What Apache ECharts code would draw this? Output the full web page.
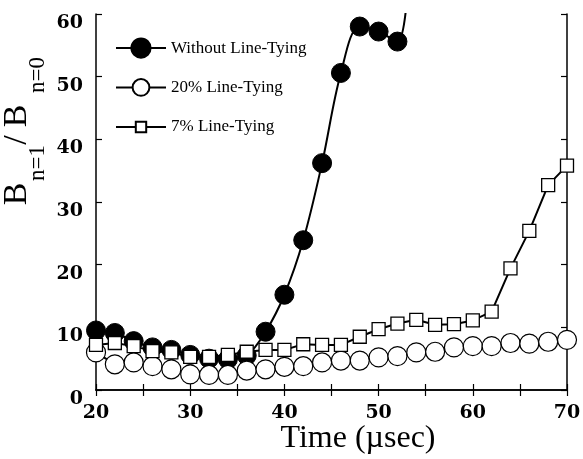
<!DOCTYPE html>
<html>
<head>
<meta charset="utf-8">
<script src="https://cdn.jsdelivr.net/npm/echarts@6/dist/echarts.min.js"></script>
<style>html,body{margin:0;padding:0;background:#fff;}</style>
</head>
<body>
<div id="main" style="width:583px;height:459px;"></div>
<script type="text/javascript">
// values
var timeFree = [20, 22, 24, 26, 28, 30, 32, 34, 36, 38, 40, 42, 44, 46, 48, 50, 52, 53];
var ratioFree = [9.5, 9.1, 7.8, 6.8, 6.4, 5.6, 5.0, 4.9, 5.5, 9.3, 15.2, 23.9, 36.2, 50.6, 58.0, 57.2, 55.6, 62.5];
var time20 = [20, 22, 24, 26, 28, 30, 32, 34, 36, 38, 40, 42, 44, 46, 48, 50, 52, 54, 56, 58, 60, 62, 64, 66, 68, 70];
var ratio20 = [6.0, 4.1, 4.4, 3.8, 3.3, 2.5, 2.4, 2.4, 3.1, 3.3, 3.7, 3.8, 4.4, 4.7, 4.7, 5.2, 5.4, 6.0, 6.1, 6.8, 7.0, 7.0, 7.5, 7.4, 7.7, 8.0];
var time7 = [20, 22, 24, 26, 28, 30, 32, 34, 36, 38, 40, 42, 44, 46, 48, 50, 52, 54, 56, 58, 60, 62, 64, 66, 68, 70];
var ratio7 = [7.2, 7.5, 7.0, 6.2, 6.0, 5.3, 5.3, 5.6, 6.1, 6.4, 6.4, 7.3, 7.2, 7.2, 8.5, 9.7, 10.6, 11.2, 10.4, 10.5, 11.1, 12.5, 19.4, 25.4, 32.7, 35.8];
var seriesNames = ['Without Line-Tying', '20% Line-Tying', '7% Line-Tying'];

var chart = echarts.init(document.getElementById('main'), null, { renderer: 'canvas' });

function pairs(xs, ys) {
	var out = [];
	for (var i = 0; i < xs.length; i++) out.push([xs[i], ys[i]]);
	return out;
}

var freeData = pairs(timeFree, ratioFree);
// last point only carries the line out through the top edge
freeData[freeData.length - 1] = { value: freeData[freeData.length - 1], symbol: 'none' };

var serif = 'Liberation Serif';
var tickFont = { fontFamily: 'DejaVu Serif', fontWeight: 'bold', fontSize: 19, color: '#000' };
var axisLine = { show: true, lineStyle: { color: '#000', width: 1.5 } };
var tick = { show: true, inside: true, length: 6, lineStyle: { color: '#000', width: 1.2 } };

function legendFor(name, h, top) {
	return {
		data: [name], left: 115, top: top, padding: 0,
		itemWidth: 50, itemHeight: h, itemGap: 0, itemTextGap: 3,
		textStyle: { fontFamily: serif, fontSize: 17, color: '#000' }
	};
}

function yText(str, x, y, size) {
	return { type: 'text', x: x, y: y, rotation: Math.PI / 2,
		style: { text: str, fontFamily: serif, fontSize: size, fill: '#000', align: 'center', verticalAlign: 'middle' } };
}

chart.setOption({
	animation: false,
	backgroundColor: '#fff',
	grid: { left: 96, right: 16, top: 14, bottom: 69, containLabel: false, outerBoundsMode: 'none' },
	legend: [
		legendFor(seriesNames[0], 24, 37.5),
		legendFor(seriesNames[1], 21, 78),
		legendFor(seriesNames[2], 13, 118.5)
	],
	xAxis: [{
		type: 'value', min: 20, max: 70, interval: 5, position: 'bottom',
		axisLine: axisLine, axisTick: tick, splitLine: { show: false },
		axisLabel: Object.assign({ margin: 14, formatter: function (v) { return v % 10 === 0 ? String(v) : ''; } }, tickFont)
	}, {
		type: 'value', min: 20, max: 70, interval: 5, position: 'top',
		axisLine: axisLine, axisTick: tick, splitLine: { show: false }, axisLabel: { show: false }
	}],
	yAxis: [{
		type: 'value', min: 0, max: 60, interval: 10, position: 'left',
		axisLine: axisLine, axisTick: tick, splitLine: { show: false },
		axisLabel: Object.assign({ margin: 13, verticalAlign: 'top', lineHeight: 18 }, tickFont)
	}, {
		type: 'value', min: 0, max: 60, interval: 10, position: 'right',
		axisLine: axisLine, axisTick: tick, splitLine: { show: false }, axisLabel: { show: false }
	}],
	graphic: [
		{ type: 'text', x: 358, y: 439, style: { text: 'Time (\u00b5sec)', fontFamily: serif, fontSize: 32, fill: '#000', align: 'center', verticalAlign: 'middle' } },
		yText('B', 17, 194, 34),
		yText('n=1', 38, 163, 23),
		yText('/', 17, 140, 34),
		yText('B', 17, 116, 34),
		yText('n=0', 38, 75, 23)
	],
	series: [{
		name: seriesNames[0], type: 'line', data: freeData, smooth: 0.35,
		symbol: 'circle', symbolSize: 19,
		itemStyle: { color: '#000', borderColor: '#000', borderWidth: 1 },
		lineStyle: { color: '#000', width: 2 }
	}, {
		name: seriesNames[1], type: 'line', data: pairs(time20, ratio20),
		symbol: 'circle', symbolSize: 19,
		itemStyle: { color: '#fff', borderColor: '#000', borderWidth: 1.2 },
		lineStyle: { color: '#000', width: 2 }
	}, {
		name: seriesNames[2], type: 'line', data: pairs(time7, ratio7),
		symbol: 'rect', symbolSize: 13,
		itemStyle: { color: '#fff', borderColor: '#000', borderWidth: 1.3 },
		lineStyle: { color: '#000', width: 2 }
	}]
});
</script>
</body>
</html>
